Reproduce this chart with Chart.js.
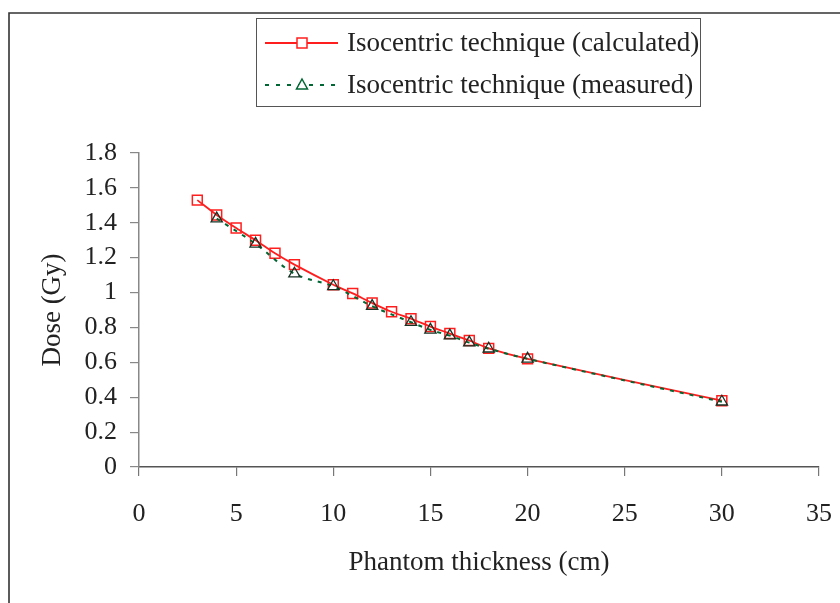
<!DOCTYPE html>
<html>
<head>
<meta charset="utf-8">
<script src="https://cdn.jsdelivr.net/npm/chart.js@4"></script>
<style>
  html, body { margin: 0; padding: 0; background: #fff; }
  #wrap { width: 840px; height: 603px; }
</style>
</head>
<body>
<div id="wrap"><canvas id="c" width="840" height="603"></canvas></div>
<script>
// ---- data ----
const calcThickness = [3, 4, 5, 6, 7, 8, 10, 11, 12, 13, 14, 15, 16, 17, 18, 20, 30];
const calcDose      = [1.53, 1.445, 1.37, 1.30, 1.225, 1.16, 1.045, 0.995, 0.94, 0.89, 0.85, 0.805, 0.765, 0.725, 0.68, 0.62, 0.38];
const measThickness = [4, 6, 8, 10, 12, 14, 15, 16, 17, 18, 20, 30];
const measDose      = [1.424, 1.279, 1.108, 1.036, 0.922, 0.83, 0.786, 0.753, 0.713, 0.678, 0.62, 0.374];
const xTickValues   = [0, 5, 10, 15, 20, 25, 30, 35];
const yTickLabels   = ['0', '0.2', '0.4', '0.6', '0.8', '1', '1.2', '1.4', '1.6', '1.8'];
const seriesNames   = ['Isocentric technique (calculated)', 'Isocentric technique (measured)'];
const xTitle = 'Phantom thickness (cm)';
const yTitle = 'Dose (Gy)';

const FONT = "'Liberation Serif', 'Times New Roman', serif";
const RED = 'rgb(255,30,30)';
const GREEN = '#006633';
const TXT = '#222';

const toPts = (xs, ys) => xs.map((x, i) => ({ x: x, y: ys[i] }));

const framePlugin = {
  id: 'frame',
  beforeDraw(chart) {
    const ctx = chart.ctx;
    ctx.save();
    ctx.strokeStyle = '#333';
    ctx.lineWidth = 1.6;
    ctx.beginPath();
    ctx.moveTo(9, 603);
    ctx.lineTo(9, 13);
    ctx.lineTo(840, 13);
    ctx.stroke();
    ctx.restore();
  }
};

const legendPlugin = {
  id: 'customLegend',
  afterDraw(chart) {
    const ctx = chart.ctx;
    ctx.save();
    ctx.strokeStyle = '#555';
    ctx.lineWidth = 1;
    ctx.strokeRect(256.5, 18.5, 444, 88);
    const rows = [43, 85];
    const x0 = 265, x1 = 338, xm = 302;
    ctx.strokeStyle = RED;
    ctx.lineWidth = 1.8;
    ctx.setLineDash([]);
    ctx.beginPath(); ctx.moveTo(x0, rows[0]); ctx.lineTo(x1, rows[0]); ctx.stroke();
    ctx.fillStyle = '#fff';
    ctx.lineWidth = 1.5;
    ctx.fillRect(xm - 5, rows[0] - 5, 10, 10);
    ctx.strokeRect(xm - 5, rows[0] - 5, 10, 10);
    ctx.strokeStyle = GREEN;
    ctx.lineWidth = 1.8;
    ctx.setLineDash([4, 7]);
    ctx.beginPath(); ctx.moveTo(x0, rows[1]); ctx.lineTo(x1, rows[1]); ctx.stroke();
    ctx.setLineDash([]);
    ctx.lineWidth = 1.5;
    ctx.beginPath();
    ctx.moveTo(xm, rows[1] - 6);
    ctx.lineTo(xm + 5.5, rows[1] + 4);
    ctx.lineTo(xm - 5.5, rows[1] + 4);
    ctx.closePath();
    ctx.fill();
    ctx.stroke();
    ctx.fillStyle = TXT;
    ctx.font = "27px " + FONT;
    ctx.textBaseline = 'middle';
    ctx.textAlign = 'left';
    ctx.fillText(seriesNames[0], 347, rows[0] + 1);
    ctx.fillText(seriesNames[1], 347, rows[1] + 1);
    ctx.restore();
  }
};

new Chart(document.getElementById('c'), {
  type: 'scatter',
  data: {
    datasets: [
      {
        label: seriesNames[0],
        data: toPts(calcThickness, calcDose),
        showLine: true,
        order: 2,
        borderColor: RED,
        borderWidth: 1.8,
        tension: 0.33,
        pointStyle: 'rect',
        pointRadius: 7,
        pointBorderWidth: 1.5,
        pointBorderColor: RED,
        pointBackgroundColor: 'rgba(0,0,0,0)'
      },
      {
        label: seriesNames[1],
        data: toPts(measThickness, measDose),
        showLine: true,
        order: 1,
        borderColor: GREEN,
        borderWidth: 2,
        borderDash: [4, 6],
        tension: 0.33,
        pointStyle: 'triangle',
        pointRadius: 6.5,
        pointBorderWidth: 1.3,
        pointBorderColor: '#173326',
        pointBackgroundColor: 'rgba(0,0,0,0)'
      }
    ]
  },
  options: {
    responsive: false,
    animation: false,
    layout: { padding: { left: 10, right: 21, top: 153, bottom: 10 } },
    plugins: {
      legend: { display: false },
      tooltip: { enabled: false },
      title: { display: false }
    },
    scales: {
      x: {
        type: 'linear',
        min: 0,
        max: 35,
        afterFit(s) { s.height = 126; s.paddingRight = 0; s.paddingLeft = 0; },
        afterBuildTicks(s) { s.ticks = xTickValues.map(v => ({ value: v })); },
        ticks: {
          color: TXT,
          font: { family: FONT, size: 26 },
          padding: 23,
          maxRotation: 0,
          callback: (v) => String(v)
        },
        grid: { drawOnChartArea: false, drawTicks: true, tickLength: 9, color: '#777', lineWidth: 1.2 },
        border: { display: true, color: '#555', width: 1.5 },
        title: {
          display: true,
          text: xTitle,
          color: TXT,
          font: { family: FONT, size: 27, lineHeight: 1.2 },
          padding: { top: 0, bottom: 13.8 }
        }
      },
      y: {
        type: 'linear',
        min: 0,
        max: 1.8,
        afterFit(s) { s.width = 129; s.paddingTop = 0; s.paddingBottom = 0; },
        ticks: {
          stepSize: 0.2,
          color: TXT,
          font: { family: FONT, size: 26 },
          padding: 13,
          callback: (v, i) => yTickLabels[i]
        },
        grid: { drawOnChartArea: false, drawTicks: true, tickLength: 9, color: '#888', lineWidth: 1.2 },
        border: { display: true, color: '#888', width: 1.5 },
        title: {
          display: true,
          text: yTitle,
          color: TXT,
          font: { family: FONT, size: 27, lineHeight: 1.2 },
          padding: { top: 26.8, bottom: 0 }
        }
      }
    }
  },
  plugins: [framePlugin, legendPlugin]
});
</script>
</body>
</html>
